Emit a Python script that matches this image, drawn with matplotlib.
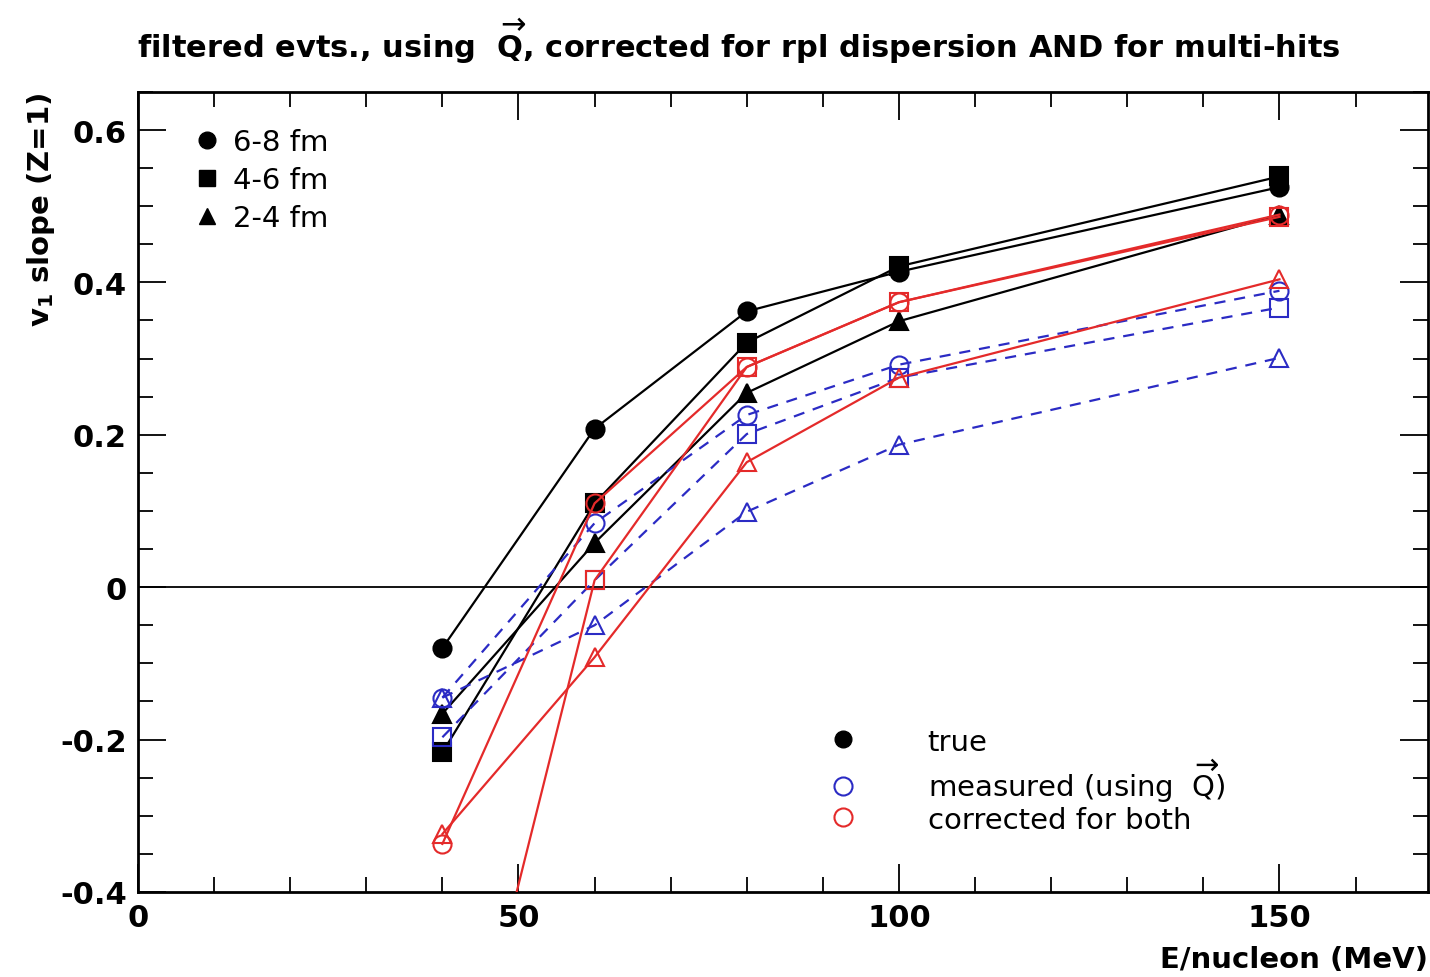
import numpy as np
import matplotlib
matplotlib.use('Agg')
import matplotlib.pyplot as plt
from matplotlib.lines import Line2D
from matplotlib.ticker import MultipleLocator

# beam energies (MeV/nucleon)
energy = [40, 60, 80, 100, 150]

# true v1 slope (black, solid)
true_68 = [-0.080, 0.208, 0.362, 0.414, 0.525]
true_46 = [-0.217, 0.110, 0.321, 0.421, 0.539]
true_24 = [-0.166, 0.058, 0.255, 0.349, 0.489]

# measured using Q vector (blue, dashed)
meas_68 = [-0.145, 0.084, 0.226, 0.292, 0.389]
meas_46 = [-0.197, 0.009, 0.201, 0.275, 0.367]
meas_24 = [-0.145, -0.050, 0.099, 0.187, 0.301]

# corrected for both (red, solid)
corr_68 = [-0.337, 0.110, 0.289, 0.374, 0.489]
corr_46 = [-0.790, 0.009, 0.289, 0.374, 0.486]
corr_24 = [-0.324, -0.092, 0.164, 0.275, 0.404]

blue = '#2b2bc4'
red = '#e42a2a'

fig = plt.figure(figsize=(14.3, 9.78), dpi=100)
ax = fig.add_axes([0.0965, 0.087, 0.902, 0.818])

ax.axhline(0, color='black', lw=1.3, zorder=1)

ms = 13
groups = [
    (true_68, true_46, true_24, 'black', '-', True),
    (meas_68, meas_46, meas_24, blue, '--', False),
    (corr_68, corr_46, corr_24, red, '-', False),
]
for y68, y46, y24, col, ls, filled in groups:
    for ys, mk in zip([y68, y46, y24], ['o', 's', '^']):
        ax.plot(energy, ys, color=col, ls=ls, lw=1.6, marker=mk, ms=ms,
                mfc=col if filled else 'none', mec=col, mew=1.5,
                dashes=(5, 4) if ls == '--' else (None, None), zorder=3)

ax.set_xlim(0, 169.5)
ax.set_ylim(-0.4, 0.65)
ax.xaxis.set_major_locator(MultipleLocator(50))
ax.xaxis.set_minor_locator(MultipleLocator(10))
ax.yaxis.set_major_locator(MultipleLocator(0.2))
ax.yaxis.set_minor_locator(MultipleLocator(0.05))
ax.tick_params(which='both', direction='in', top=True, right=True, width=1.3)
ax.tick_params(which='major', length=20)
ax.tick_params(which='minor', length=11)
ax.tick_params(axis='both', labelsize=22, pad=8)
ax.set_yticks([-0.4, -0.2, 0, 0.2, 0.4, 0.6])
ax.set_yticklabels(['-0.4', '-0.2', '0', '0.2', '0.4', '0.6'], fontweight='bold')
ax.set_xticks([0, 50, 100, 150])
ax.set_xticklabels(['0', '50', '100', '150'], fontweight='bold')
for sp in ax.spines.values():
    sp.set_linewidth(2)

ax.set_ylabel(r'v$_\mathbf{1}$ slope (Z=1)', fontsize=21, fontweight='bold',
              loc='top', labelpad=2)
ax.set_xlabel('E/nucleon (MeV)', fontsize=21, fontweight='bold', loc='right', labelpad=9)

fig.text(0.096, 0.958,
         r'filtered evts., using  $\overrightarrow{\mathbf{Q}}$, corrected for rpl dispersion AND for multi-hits',
         fontsize=22, fontweight='bold', va='center')

h1 = [Line2D([], [], ls='none', marker=m, color='black', ms=ms - 1) for m in ['o', 's', '^']]
leg1 = ax.legend(h1, ['6-8 fm', '4-6 fm', '2-4 fm'], loc='upper left',
                 bbox_to_anchor=(0.022, 0.988), frameon=False, fontsize=21,
                 handletextpad=0.4, labelspacing=0.35, handlelength=1.0)
ax.add_artist(leg1)

h2 = [Line2D([], [], ls='none', marker='o', color='black', ms=ms - 1),
      Line2D([], [], ls='none', marker='o', mfc='none', mec=blue, mew=1.5, ms=ms),
      Line2D([], [], ls='none', marker='o', mfc='none', mec=red, mew=1.5, ms=ms)]
ax.legend(h2, ['true', r'measured (using  $\overrightarrow{\mathrm{Q}}$)', 'corrected for both'],
          loc='lower left', bbox_to_anchor=(0.515, 0.04), frameon=False, fontsize=21,
          handletextpad=2.4, labelspacing=0.05, handlelength=1.0)

fig.savefig('out.png', dpi=100)
